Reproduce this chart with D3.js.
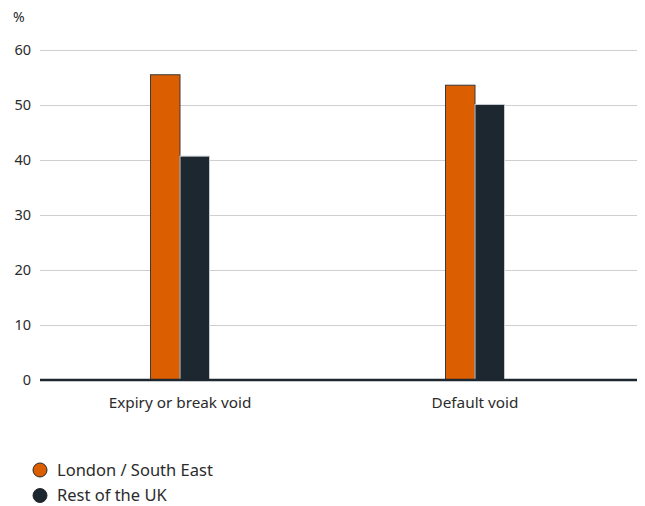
<!DOCTYPE html>
<html>
<head>
<meta charset="utf-8">
<script src="https://cdn.jsdelivr.net/npm/d3@7"></script>
<style>
  html, body { margin: 0; padding: 0; background: #fff; }
  svg { display: block; font-family: "Noto Sans", sans-serif; }
</style>
</head>
<body>
<div id="chart"></div>
<script>
// Share of voids by type, by region (%)
const categories = ["Expiry or break void", "Default void"];
const seriesNames = ["London / South East", "Rest of the UK"];
const londonSouthEast = [55.5, 53.6];
const restOfUK = [40.7, 50.1];
const yTicks = [0, 10, 20, 30, 40, 50, 60];
const seriesColors = ["#DB5E00", "#1D2730"];
const seriesStrokes = ["#3a3a3a", "#c9cccf"];

const width = 645, height = 506;
const svg = d3.select("#chart").append("svg")
  .attr("width", width).attr("height", height);

const y = d3.scaleLinear().domain([0, 60]).range([380, 50]);
const x0 = d3.scaleBand().domain(categories).range([32.5, 622.5])
  .paddingInner(0.8).paddingOuter(0.4);
const x1 = d3.scaleBand().domain(seriesNames).range([0, x0.bandwidth()]);

// gridlines and y labels
const yAxis = d3.axisLeft(y).tickValues(yTicks).tickSize(-(637 - 40)).tickPadding(10);
const gy = svg.append("g").attr("transform", "translate(40,0)").call(yAxis)
  .attr("font-family", "Noto Sans, sans-serif");
gy.select(".domain").remove();
gy.selectAll(".tick line").attr("stroke", "#cfcfcf").attr("stroke-width", 1.2);
gy.selectAll(".tick text").attr("fill", "#2b2b2b").attr("font-size", 14.5).attr("x", -9);

svg.append("text").attr("x", 13).attr("y", 22).attr("fill", "#2b2b2b")
  .attr("font-size", 14).text("%");

// bars
const data = categories.map((c, i) => ({ category: c, values: [londonSouthEast[i], restOfUK[i]] }));
const groups = svg.append("g").selectAll("g").data(data).join("g")
  .attr("transform", d => `translate(${x0(d.category)},0)`);
groups.selectAll("rect")
  .data(d => d.values.map((v, j) => ({ key: seriesNames[j], value: v, j })))
  .join("rect")
  .attr("x", d => x1(d.key))
  .attr("y", d => y(d.value))
  .attr("width", x1.bandwidth())
  .attr("height", d => y(0) - y(d.value))
  .attr("fill", d => seriesColors[d.j])
  .attr("stroke", d => seriesStrokes[d.j])
  .attr("stroke-width", 1);

// baseline
svg.append("line").attr("x1", 40).attr("x2", 637).attr("y1", 380).attr("y2", 380)
  .attr("stroke", "#1D2730").attr("stroke-width", 2.5);

// category labels
const xAxis = d3.axisBottom(x0).tickSize(0).tickPadding(17);
const gx = svg.append("g").attr("transform", "translate(0,380)").call(xAxis)
  .attr("font-family", "Noto Sans, sans-serif");
gx.select(".domain").remove();
gx.selectAll(".tick text").attr("fill", "#2b2b2b").attr("font-size", 15.3);

// legend
const legend = svg.append("g").selectAll("g").data(seriesNames).join("g")
  .attr("transform", (d, i) => `translate(40,${470 + i * 25.5})`);
legend.append("circle").attr("r", 7)
  .attr("fill", (d, i) => seriesColors[i])
  .attr("stroke", "#2a2a2a").attr("stroke-width", 1);
legend.append("text").attr("x", 17).attr("dy", "0.35em")
  .attr("fill", "#2b2b2b").attr("font-size", 16.5).text(d => d);
</script>
</body>
</html>
